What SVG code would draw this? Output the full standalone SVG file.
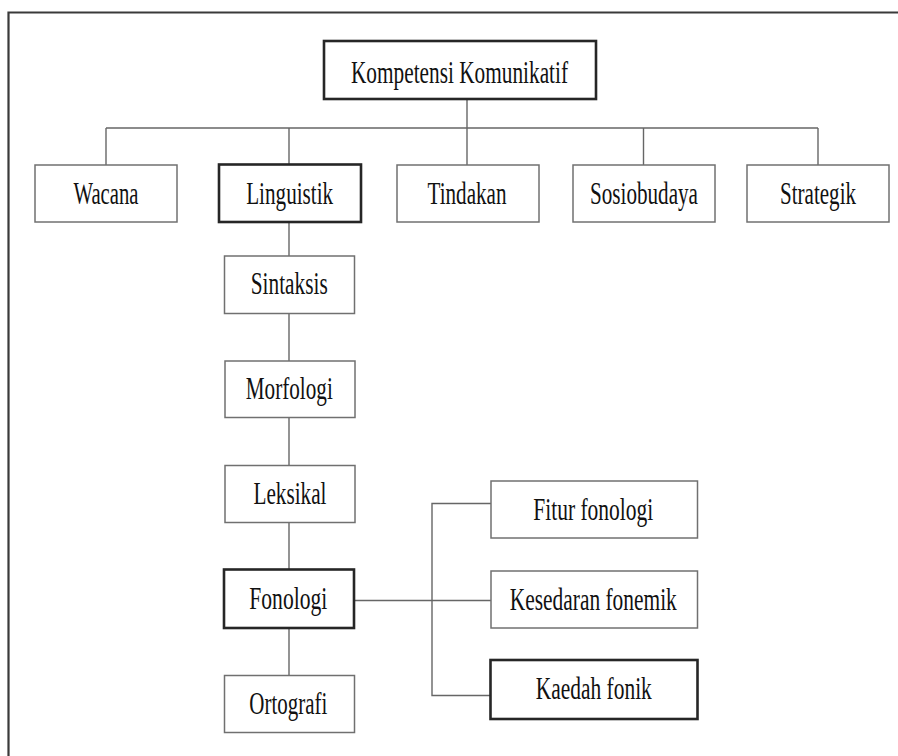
<svg xmlns="http://www.w3.org/2000/svg" width="898" height="756" viewBox="0 0 898 756">
<style>
  .box { fill: #ffffff; stroke: #707070; stroke-width: 1.5; }
  .thick { fill: #ffffff; stroke: #262626; stroke-width: 2.6; }
  .lbl { font-family: "Liberation Serif", "Times New Roman", serif; font-size: 31px; fill: #111; text-anchor: middle; }
  .conn { fill: none; stroke: #666666; stroke-width: 1.4; }
  .frame { fill: none; stroke: #3a3a3a; stroke-width: 2.2; }
</style>
<rect x="0" y="0" width="898" height="756" fill="#ffffff"/>
<path class="frame" d="M8.5,756 V12.5 H898"/>

<g id="connectors">
  <line class="conn" x1="467" y1="99" x2="467" y2="128"/>
  <line class="conn" x1="106" y1="128" x2="818" y2="128"/>
  <line class="conn" x1="106" y1="128" x2="106" y2="165"/>
  <line class="conn" x1="289" y1="128" x2="289" y2="165"/>
  <line class="conn" x1="467" y1="128" x2="467" y2="165"/>
  <line class="conn" x1="643.5" y1="128" x2="643.5" y2="165"/>
  <line class="conn" x1="818" y1="128" x2="818" y2="165"/>
  <line class="conn" x1="289" y1="222" x2="289" y2="256"/>
  <line class="conn" x1="289" y1="313.5" x2="289" y2="361"/>
  <line class="conn" x1="289" y1="417.5" x2="289" y2="465.5"/>
  <line class="conn" x1="289" y1="522.5" x2="289" y2="569.5"/>
  <line class="conn" x1="289" y1="628" x2="289" y2="675.5"/>
  <line class="conn" x1="354" y1="600.5" x2="491" y2="600.5"/>
  <path class="conn" d="M491,503.5 H432 V695.5 H490.5"/>
</g>

<g id="kompetensi">
  <rect class="thick" x="324" y="41" width="272" height="58"/>
  <text class="lbl" x="459.5" y="82.5" textLength="217" lengthAdjust="spacingAndGlyphs">Kompetensi Komunikatif</text>
</g>
<g id="wacana">
  <rect class="box" x="35" y="165" width="142" height="57"/>
  <text class="lbl" x="106" y="203.5" textLength="65" lengthAdjust="spacingAndGlyphs">Wacana</text>
</g>
<g id="linguistik">
  <rect class="thick" x="219" y="164.5" width="142" height="57.5"/>
  <text class="lbl" x="289.7" y="203.5" textLength="87" lengthAdjust="spacingAndGlyphs">Linguistik</text>
</g>
<g id="tindakan">
  <rect class="box" x="397" y="165" width="142" height="57"/>
  <text class="lbl" x="467" y="203.5" textLength="79" lengthAdjust="spacingAndGlyphs">Tindakan</text>
</g>
<g id="sosiobudaya">
  <rect class="box" x="573" y="165" width="142" height="57"/>
  <text class="lbl" x="644" y="203.5" textLength="108" lengthAdjust="spacingAndGlyphs">Sosiobudaya</text>
</g>
<g id="strategik">
  <rect class="box" x="747" y="165" width="142" height="57"/>
  <text class="lbl" x="818" y="203.5" textLength="76" lengthAdjust="spacingAndGlyphs">Strategik</text>
</g>
<g id="sintaksis">
  <rect class="box" x="224.5" y="256" width="130" height="57.5"/>
  <text class="lbl" x="289.2" y="294.3" textLength="77" lengthAdjust="spacingAndGlyphs">Sintaksis</text>
</g>
<g id="morfologi">
  <rect class="box" x="225" y="361" width="130" height="56.5"/>
  <text class="lbl" x="289.3" y="399.3" textLength="87" lengthAdjust="spacingAndGlyphs">Morfologi</text>
</g>
<g id="leksikal">
  <rect class="box" x="225" y="465.5" width="130" height="57"/>
  <text class="lbl" x="290" y="503.8" textLength="73" lengthAdjust="spacingAndGlyphs">Leksikal</text>
</g>
<g id="fonologi">
  <rect class="thick" x="224" y="569.5" width="130" height="58.5"/>
  <text class="lbl" x="288.3" y="608.5" textLength="78" lengthAdjust="spacingAndGlyphs">Fonologi</text>
</g>
<g id="ortografi">
  <rect class="box" x="224.5" y="675.5" width="130" height="57"/>
  <text class="lbl" x="288.3" y="714" textLength="78" lengthAdjust="spacingAndGlyphs">Ortografi</text>
</g>
<g id="fitur-fonologi">
  <rect class="box" x="491" y="481" width="206.5" height="57"/>
  <text class="lbl" x="593.3" y="519.5" textLength="120" lengthAdjust="spacingAndGlyphs">Fitur fonologi</text>
</g>
<g id="kesedaran-fonemik">
  <rect class="box" x="491" y="571" width="206.5" height="57"/>
  <text class="lbl" x="593.3" y="609.5" textLength="167" lengthAdjust="spacingAndGlyphs">Kesedaran fonemik</text>
</g>
<g id="kaedah-fonik">
  <rect class="thick" x="490.5" y="660" width="207" height="59"/>
  <text class="lbl" x="593.8" y="699" textLength="116" lengthAdjust="spacingAndGlyphs">Kaedah fonik</text>
</g>
</svg>
